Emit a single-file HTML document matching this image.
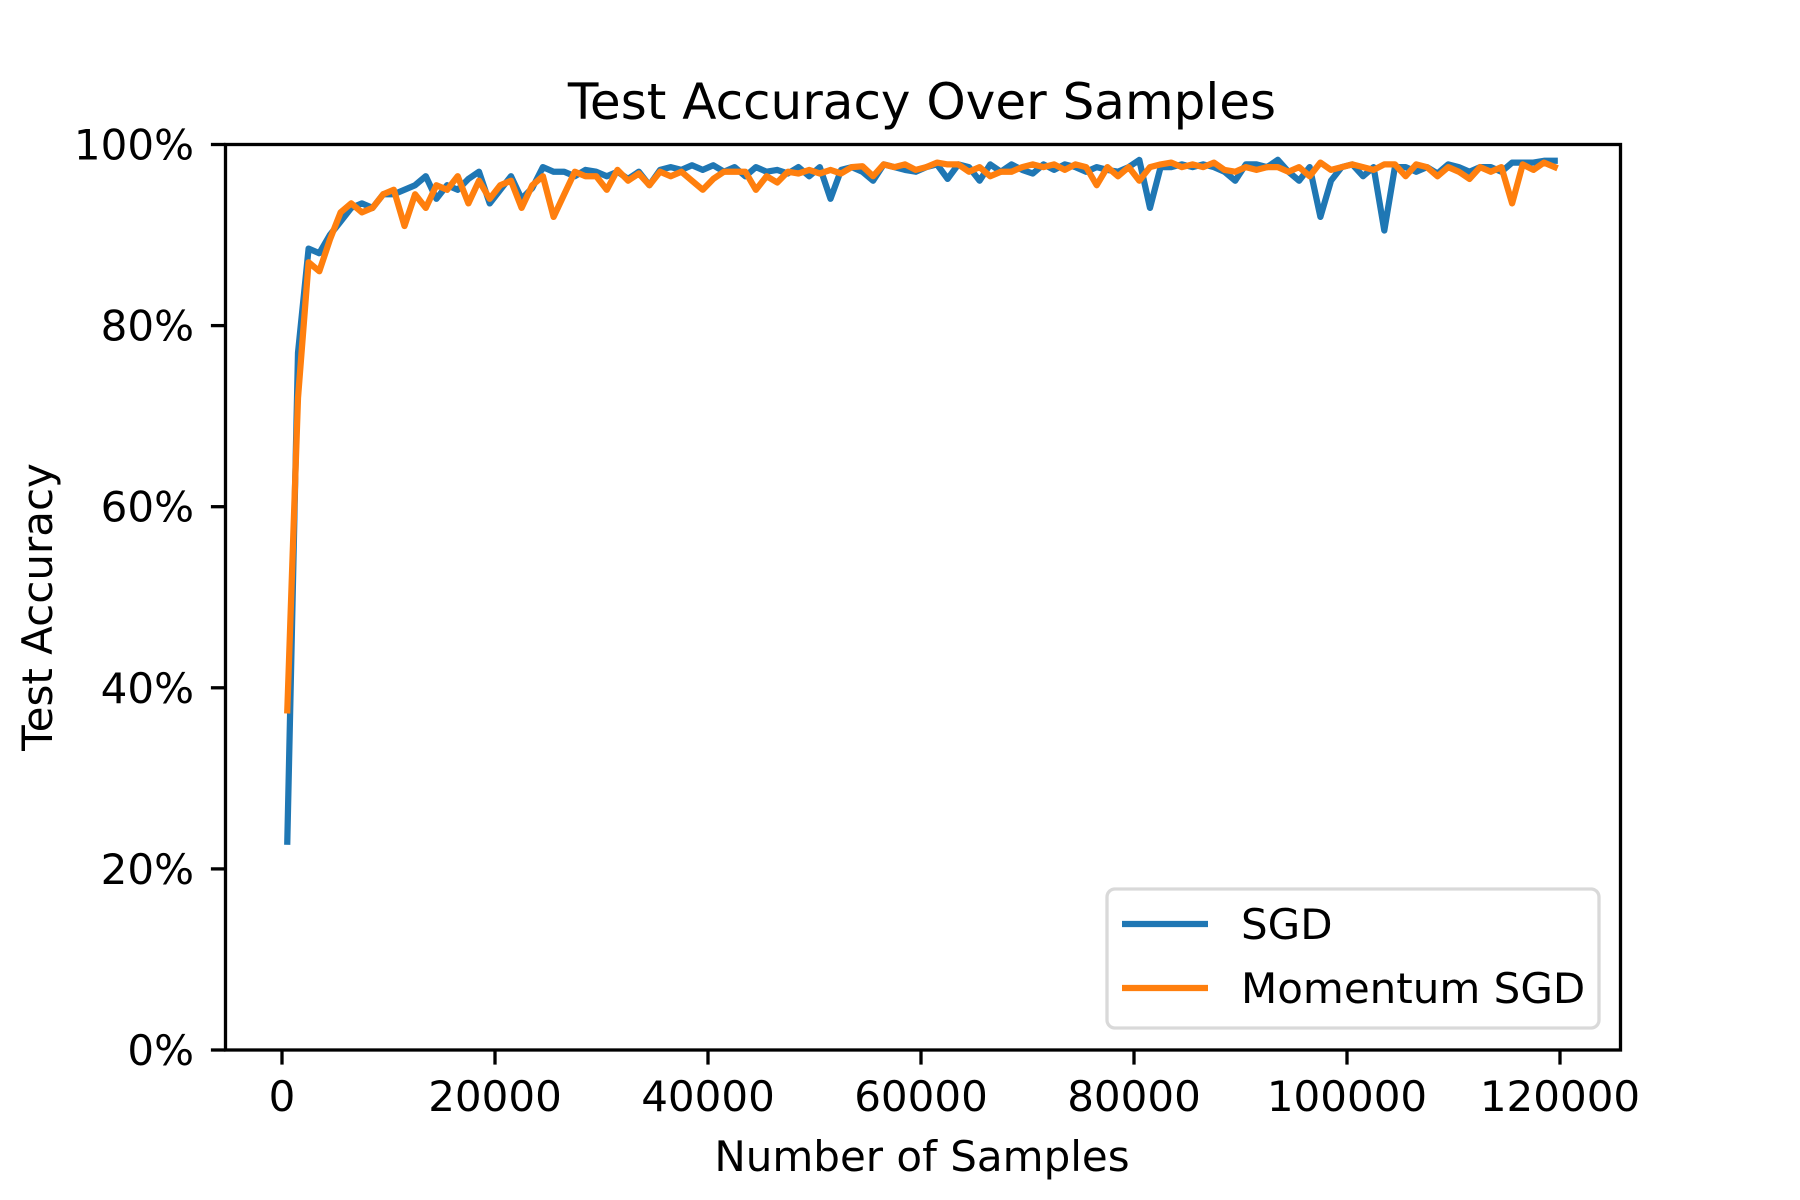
<!DOCTYPE html>
<html><head><meta charset="utf-8"><style>
html,body{margin:0;padding:0;background:#fff}
svg{display:block;font-family:"DejaVu Sans","Liberation Sans",sans-serif}
</style></head><body>
<svg id="chart" width="1800" height="1200" xmlns="http://www.w3.org/2000/svg">
<rect width="1800" height="1200" fill="#fff"/>
<text x="922" y="119" font-size="50" text-anchor="middle">Test Accuracy Over Samples</text>
<g id="plot"></g>
<g id="axes"></g>
<text x="922" y="1171" font-size="42" text-anchor="middle">Number of Samples</text>
<text transform="translate(52,607) rotate(-90)" font-size="42" text-anchor="middle">Test Accuracy</text>
<g>
<rect x="1107" y="889" width="492" height="139" rx="8" fill="#fff" fill-opacity="0.8" stroke="#d9d9d9" stroke-width="3.3"/>
<line x1="1122" y1="924" x2="1208" y2="924" stroke="#1f77b4" stroke-width="6.25"/>
<text x="1241" y="939" font-size="42">SGD</text>
<line x1="1122" y1="988" x2="1208" y2="988" stroke="#ff7f0e" stroke-width="6.25"/>
<text x="1241" y="1003" font-size="42">Momentum SGD</text>
</g>
</svg>
<script>
const xStart = 500;
const xStep = 1000;
const sgd = [.23,.77,.885,.88,.90,.915,.93,.935,.93,.945,
.945,.95,.955,.965,.94,.955,.95,.962,.97,.935,
.95,.965,.94,.952,.975,.97,.97,.965,.972,.97,
.965,.97,.962,.97,.955,.972,.975,.972,.977,.972,
.977,.97,.975,.965,.975,.97,.972,.968,.975,.965,
.975,.94,.972,.975,.97,.96,.978,.975,.972,.97,
.975,.978,.962,.978,.975,.96,.978,.97,.978,.972,
.968,.978,.972,.978,.975,.97,.975,.972,.97,.975,
.983,.93,.975,.975,.978,.975,.978,.975,.97,.96,
.978,.978,.975,.983,.97,.96,.975,.92,.96,.975,
.978,.965,.975,.905,.975,.975,.97,.975,.968,.978,
.975,.97,.975,.975,.97,.98,.98,.98,.982,.982];
const momentum = [.375,.72,.87,.86,.895,.925,.935,.925,.93,.945,
.95,.91,.945,.93,.955,.95,.965,.935,.96,.94,
.955,.96,.93,.955,.965,.92,.945,.97,.965,.965,
.95,.972,.96,.968,.955,.97,.965,.97,.96,.95,
.962,.97,.97,.97,.95,.965,.958,.97,.968,.972,
.968,.972,.968,.975,.976,.965,.978,.975,.978,.972,
.975,.98,.978,.978,.97,.975,.965,.97,.97,.975,
.978,.975,.978,.972,.978,.975,.955,.975,.965,.975,
.96,.975,.978,.98,.975,.978,.975,.98,.972,.97,
.975,.972,.975,.975,.97,.975,.965,.98,.972,.975,
.978,.975,.972,.978,.978,.965,.978,.975,.965,.975,
.97,.962,.975,.97,.975,.935,.978,.972,.98,.975];
const xTicks = [0,20000,40000,60000,80000,100000,120000];
const xTickLabels = ["0","20000","40000","60000","80000","100000","120000"];
const yTicks = [0,0.2,0.4,0.6,0.8,1.0];
const yTickLabels = ["0%","20%","40%","60%","80%","100%"];

const L=225.5,R=1620.5,T=144.5,B=1050;
function xs(v){return 282+(v/120000)*(1560-282);}
function ys(v){return B-v*(B-T);}
const NS="http://www.w3.org/2000/svg";
const plot=document.getElementById('plot');
const axes=document.getElementById('axes');
function mk(tag,attrs,parent){const e=document.createElementNS(NS,tag);for(const k in attrs)e.setAttribute(k,attrs[k]);parent.appendChild(e);return e;}
function drawSeries(arr,color,name){
  const pts=arr.map((v,i)=>xs(xStart+i*xStep).toFixed(1)+','+ys(v).toFixed(1)).join(' ');
  const p=mk('polyline',{points:pts,fill:'none',stroke:color,'stroke-width':6.25,'stroke-linejoin':'round','stroke-linecap':'square'},plot);
  
  
}
drawSeries(sgd,'#1f77b4','sgd-line');
drawSeries(momentum,'#ff7f0e','momentum-sgd-line');
const frame=mk('rect',{x:L,y:T,width:R-L,height:B-T,fill:'none',stroke:'#000','stroke-width':3.3},axes);


xTicks.forEach((t,i)=>{
  const x=xs(t);
  const tk=mk('line',{x1:x,y1:B,x2:x,y2:B+14.6,stroke:'#000','stroke-width':3.3},axes);
  
  
  const tx=mk('text',{x:x,y:1111,'font-size':42,'text-anchor':'middle'},axes);
  tx.textContent=xTickLabels[i];
  
  
});
yTicks.forEach((t,i)=>{
  const y=ys(t);
  const tk=mk('line',{x1:L-14.6,y1:y,x2:L,y2:y,stroke:'#000','stroke-width':3.3},axes);
  
  
  const tx=mk('text',{x:194,y:y+15,'font-size':42,'text-anchor':'end'},axes);
  tx.textContent=yTickLabels[i];
  
  
});
</script>
</body></html>
